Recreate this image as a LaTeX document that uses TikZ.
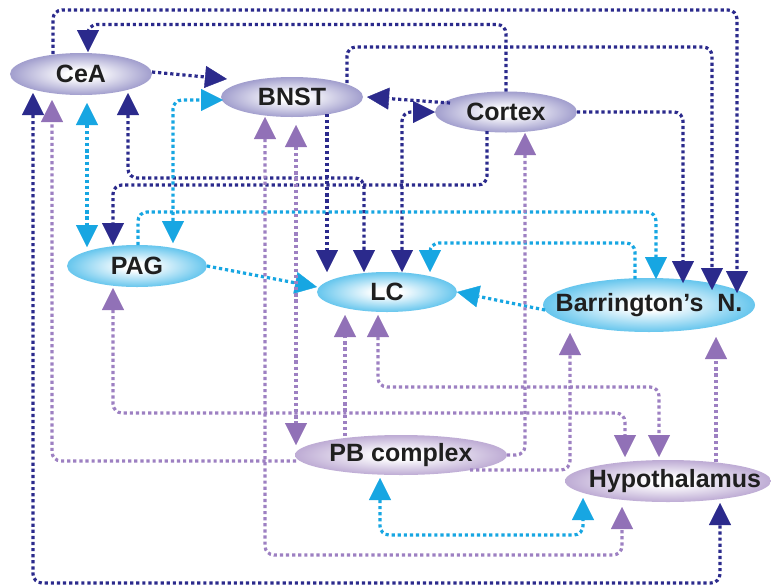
\documentclass[tikz,border=0pt]{standalone}
\usepackage{fontspec}
\setmainfont{Liberation Sans}
\usetikzlibrary{arrows.meta,calc,shapes.geometric}
\definecolor{navy}{HTML}{2B2A8C}
\definecolor{cyanl}{HTML}{17A6E2}
\definecolor{purl}{HTML}{9D80C2}
\definecolor{purh}{HTML}{9171B7}
\definecolor{fBP}{HTML}{6A65B0}
\definecolor{fCy}{HTML}{0CA4E3}
\definecolor{fPu}{HTML}{977ABB}
\pgfdeclareradialshading{shBP}{\pgfpoint{0bp}{0bp}}{color(0bp)=(white);color(5bp)=(white);color(24bp)=(fBP!60!white);color(42bp)=(fBP);color(50bp)=(fBP)}
\pgfdeclareradialshading{shCy}{\pgfpoint{0bp}{0bp}}{color(0bp)=(white);color(5bp)=(white);color(24bp)=(fCy!60!white);color(42bp)=(fCy);color(50bp)=(fCy)}
\pgfdeclareradialshading{shPu}{\pgfpoint{0bp}{0bp}}{color(0bp)=(white);color(5bp)=(white);color(24bp)=(fPu!60!white);color(42bp)=(fPu);color(50bp)=(fPu)}
\newcommand{\ztext}[1]{\makebox[0pt][c]{#1}}
\tikzset{
  region/.style={ellipse, inner sep=0pt, outer sep=0pt, text=black!88,
    font=\fontsize{25}{30}\selectfont\bfseries},
  bpnode/.style={region, shading=shBP},
  cynode/.style={region, shading=shCy},
  punode/.style={region, shading=shPu},
  dline/.style={line width=3.2pt, dash pattern=on 3.2pt off 2.9pt, rounded corners=9pt},
  nl/.style={dline, draw=navy},
  cl/.style={dline, draw=cyanl},
  pl/.style={dline, draw=purl},
  pone/.style={-{Triangle[length=22pt,width=22pt,line width=0.4pt,color=purh]}},
  pboth/.style={{Triangle[length=22pt,width=22pt,line width=0.4pt,color=purh]}-{Triangle[length=22pt,width=22pt,line width=0.4pt,color=purh]}},
}
\begin{document}
\begin{tikzpicture}[x=1pt,y=-1pt,>={Triangle[length=22pt,width=22pt,line width=0.4pt]}]
\fill[white] (0,0) rectangle (771,587);
\useasboundingbox (0,0) rectangle (771,587);

% nodes
\node[bpnode, minimum width=142pt, minimum height=42pt] (CeA) at (81,74) {\ztext{CeA}};
\node[bpnode, minimum width=142pt, minimum height=40pt] (BNST) at (292,97) {\ztext{BNST}};
\node[bpnode, minimum width=142pt, minimum height=41pt] (Cortex) at (506,112) {\ztext{Cortex}};
\node[cynode, minimum width=140pt, minimum height=42pt] (PAG) at (137,266) {\ztext{PAG}};
\node[cynode, minimum width=140pt, minimum height=40pt] (LC) at (387,292) {\ztext{LC}};
\node[cynode, minimum width=212pt, minimum height=54pt] (Barr) at (649,305) {\ztext{Barrington’s~~N.}};
\node[punode, minimum width=212pt, minimum height=40pt] (PB) at (401,455) {\ztext{PB complex}};
\node[punode, minimum width=206pt, minimum height=42pt] (Hyp) at (668,481) {\ztext{\hspace{14pt}Hypothalamus}};

% navy connectors
\draw[nl,->] ($(CeA.center)+(71,-2)$) -- ($(BNST.center)+(-65,-18)$);
\draw[nl,->] ($(Cortex.center)+(-56,-9)$) -- ($(BNST.center)+(75,0)$);
\draw[nl,->] (Cortex.north) -- ++(0,-67) -| ($(CeA.center)+(7,-22)$);
\draw[nl,->] ($(CeA.center)+(-28,-20)$) -- ++(0,-44) -| ($(Barr.center)+(88,-12)$);
\draw[nl,->] ($(BNST.center)+(55,-14)$) -- ++(0,-36) -| ($(Barr.center)+(63,-15)$);
\draw[nl,->] (Cortex.east) -| ($(Barr.center)+(34,-22)$);
\draw[nl,->] ($(BNST.center)+(35,17)$) -- ($(LC.center)+(-60,-20)$);
\draw[nl,<->] ($(CeA.center)+(47,19)$) -- ++(0,85) -| ($(LC.center)+(-23,-20)$);
\draw[nl,<->] ($(LC.center)+(15,-20)$) |- (Cortex.west);
\draw[nl,->] ($(Cortex.center)+(-19,19)$) -- ++(0,54) -| ($(PAG.center)+(-24,-21)$);
\draw[nl,<->] ($(CeA.center)+(-48,19)$) -- ++(0,490) -| ($(Hyp.center)+(52,22)$);

% cyan connectors
\draw[cl,<->] ($(CeA.center)+(6,29)$) -- ($(PAG.center)+(-50,-19)$);
\draw[cl,<->] ($(PAG.center)+(36,-23)$) |- ($(BNST.center)+(-69,3)$);
\draw[cl,->] (PAG.east) -- ($(LC.center)+(-70,-5)$);
\draw[cl,->] ($(PAG.center)+(1,-21)$) -- ++(0,-33) -| ($(Barr.center)+(7,-26)$);
\draw[cl,->] ($(Barr.center)+(-14,-26)$) -- ++(0,-36) -| ($(LC.center)+(43,-20)$);
\draw[cl,->] ($(Barr.center)+(-104,5)$) -- (LC.east);
\draw[cl,<->] ($(PB.center)+(-21,23)$) -- ++(0,57) -| ($(Hyp.center)+(-85,17)$);

% purple connectors
\draw[pl,pone] ($(PB.center)+(-105,6)$) -| ($(CeA.center)+(-29,26)$);
\draw[pl,pboth] ($(BNST.center)+(-27,20)$) -- ++(0,438) -| ($(Hyp.center)+(-46,26)$);
\draw[pl,pboth] ($(BNST.center)+(4,28)$) -- ($(PB.center)+(-105,-10)$);
\draw[pl,pboth] ($(PAG.center)+(-24,22)$) -- ++(0,125) -| ($(Hyp.center)+(-43,-24)$);
\draw[pl,pboth] ($(LC.center)+(-9,23)$) -- ++(0,72) -| ($(Hyp.center)+(-9,-24)$);
\draw[pl,pone] ($(PB.center)+(-56,-19)$) -- ($(LC.center)+(-42,23)$);
\draw[pl,pone] (PB.east) -| ($(Cortex.center)+(19,21)$);
\draw[pl,pone] ($(PB.center)+(69,15)$) -| ($(Barr.center)+(-79,28)$);
\draw[pl,pone] ($(Hyp.center)+(48,-19)$) -- ($(Barr.center)+(67,32)$);
\end{tikzpicture}
\end{document}
